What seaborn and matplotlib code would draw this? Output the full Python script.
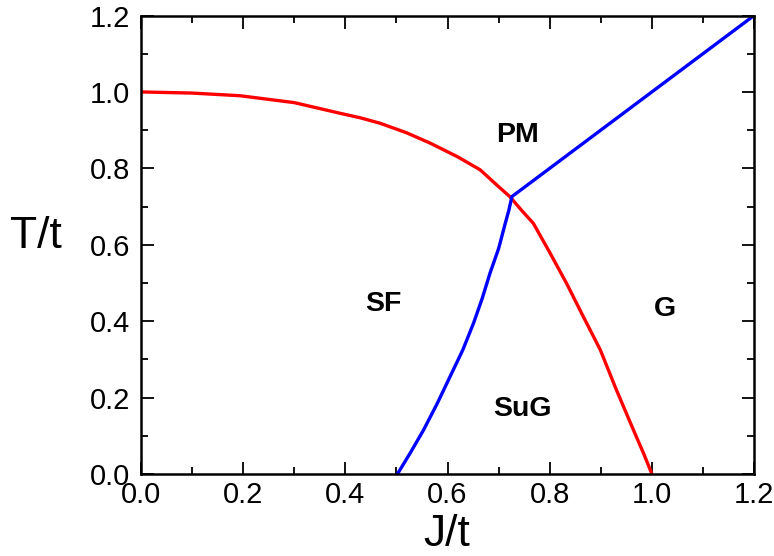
import matplotlib
matplotlib.use("Agg")
import matplotlib.pyplot as plt
import seaborn as sns
import pandas as pd
from matplotlib.ticker import MultipleLocator, FormatStrFormatter

# Red boundary (SF / SuG vs PM / G)
red_J = [0.0, 0.10, 0.194, 0.30, 0.390, 0.43, 0.468, 0.52, 0.566, 0.62, 0.664, 0.70, 0.722,
         0.745, 0.768, 0.80, 0.833, 0.865, 0.899, 0.93, 0.964, 0.985, 1.0]
red_T = [1.0, 0.997, 0.990, 0.972, 0.944, 0.932, 0.918, 0.893, 0.866, 0.830, 0.796, 0.752, 0.726,
         0.690, 0.656, 0.580, 0.499, 0.414, 0.325, 0.222, 0.115, 0.050, 0.0]

# Blue boundary (SF / SuG, and PM / G)
blue_J = [0.502, 0.527, 0.553, 0.580, 0.605, 0.630, 0.651, 0.668, 0.683, 0.700, 0.713, 0.720, 0.726, 1.2]
blue_T = [0.0, 0.055, 0.115, 0.185, 0.255, 0.325, 0.395, 0.460, 0.525, 0.590, 0.656, 0.690, 0.726, 1.2]

phase_names = ["PM", "SF", "G", "SuG"]
phase_J = [0.736, 0.474, 1.026, 0.747]
phase_T = [0.887, 0.445, 0.433, 0.171]

sns.set_theme(style="ticks")
plt.rcParams['font.family'] = ['Liberation Sans', 'DejaVu Sans']

fig = plt.figure(figsize=(7.74, 5.56), dpi=100)
ax = fig.add_axes([0.1822, 0.1475, 0.792, 0.8246])

red_df = pd.DataFrame({"J": red_J, "T": red_T})
blue_df = pd.DataFrame({"J": blue_J, "T": blue_T})
sns.lineplot(data=red_df, x="J", y="T", sort=False, color="#FF0000", linewidth=2.4, ax=ax)
sns.lineplot(data=blue_df, x="J", y="T", sort=False, color="#0000FF", linewidth=2.4, ax=ax)

for name, j, t in zip(phase_names, phase_J, phase_T):
    ax.text(j, t, name, ha="center", va="center", fontsize=20.5, fontweight="bold", color="black")

ax.set_xlim(0, 1.2)
ax.set_ylim(0, 1.2)
ax.xaxis.set_major_locator(MultipleLocator(0.2))
ax.xaxis.set_minor_locator(MultipleLocator(0.1))
ax.yaxis.set_major_locator(MultipleLocator(0.2))
ax.yaxis.set_minor_locator(MultipleLocator(0.1))
ax.xaxis.set_major_formatter(FormatStrFormatter('%.1f'))
ax.yaxis.set_major_formatter(FormatStrFormatter('%.1f'))

ax.tick_params(which="both", direction="in", top=True, right=True, colors="black",
               labelcolor="black", labelsize=21, width=1.3)
ax.tick_params(which="major", length=9, pad=5)
ax.tick_params(which="minor", length=5)
ax.tick_params(axis="y", which="major", pad=8)

for s in ax.spines.values():
    s.set_linewidth(1.8)
    s.set_color("black")
    s.set_visible(True)

ax.set_xlabel("J/t", fontsize=32, color="black", ha="center", va="center")
ax.set_ylabel("T/t", fontsize=32, color="black", rotation=0, ha="center", va="center")
ax.xaxis.set_label_coords(0.499, -0.133)
ax.yaxis.set_label_coords(-0.171, 0.517)

fig.savefig("out.png", dpi=100)
